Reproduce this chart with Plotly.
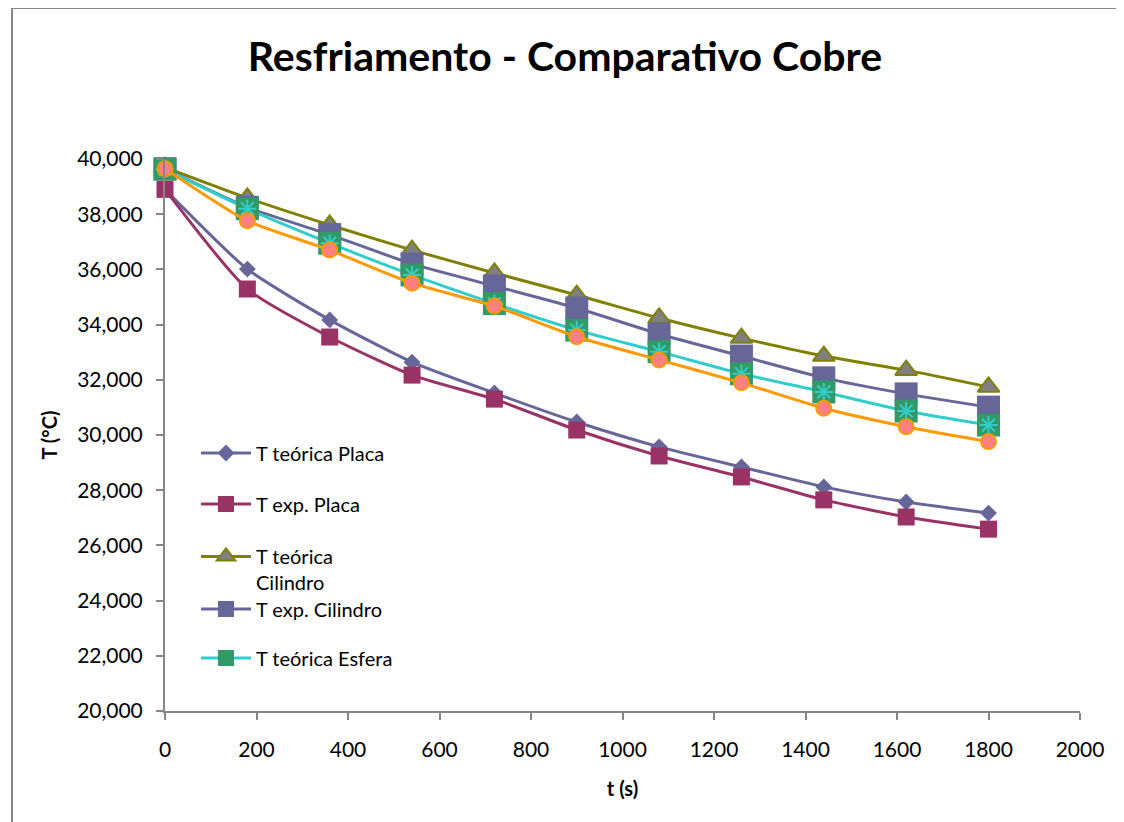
import plotly.graph_objects as go

t = [0, 180, 360, 540, 720, 900, 1080, 1260, 1440, 1620, 1800]

t_teo_placa = [38900, 36010, 34170, 32640, 31520, 30470, 29570, 28840, 28120, 27570, 27170]
t_exp_placa = [38900, 35290, 33550, 32170, 31300, 30180, 29240, 28480, 27650, 27030, 26590]
t_teo_cil = [39700, 38590, 37610, 36700, 35870, 35070, 34240, 33510, 32860, 32350, 31740]
t_exp_cil = [39650, 38250, 37260, 36200, 35400, 34600, 33660, 32860, 32070, 31490, 31010]
t_teo_esf = [39630, 38200, 36950, 35800, 34760, 33800, 33020, 32220, 31560, 30870, 30360]
t_exp_esf = [39650, 37760, 36700, 35500, 34670, 33560, 32720, 31890, 30970, 30300, 29760]

names = ["T teórica Placa", "T exp. Placa", "T teórica<br>Cilindro",
         "T exp. Cilindro", "T teórica Esfera", "T exp. Esfera"]

FONT = "Lato, 'Open Sans', sans-serif"

fig = go.Figure()

def add(y, name, lc, sym, size, mc, mlc, mlw, legend, show=True):
    fig.add_trace(go.Scatter(
        x=t, y=y, name=name, mode="lines+markers",
        line=dict(color=lc, width=3, shape="spline", smoothing=0.6),
        marker=dict(symbol=sym, size=size, color=mc, line=dict(color=mlc, width=mlw)),
        cliponaxis=False, showlegend=show, legend=legend))

add(t_teo_placa, names[0], "#666699", "diamond", 13, "#666699", "#666699", 0, "legend")
add(t_exp_placa, names[1], "#993366", "square", 17, "#993366", "#993366", 0, "legend2")
add(t_teo_cil, names[2], "#808000", "triangle-up", 19, "#808080", "#808000", 2, "legend3")
add(t_exp_cil, names[3], "#666699", "square", 23, "#666699", "#666699", 0, "legend4")
add(t_teo_esf, names[4], "#33CCCC", "square", 23, "#339966", "#339966", 0, "legend5")
fig.add_trace(go.Scatter(
    x=t, y=t_teo_esf, mode="markers", showlegend=False,
    marker=dict(symbol="asterisk-open", size=15, color="#33CCCC",
                line=dict(color="#33CCCC", width=2)),
    cliponaxis=False))
add(t_exp_esf, names[5], "#FF9900", "circle", 15, "#FF8080", "#FF9900", 2, "legend", show=False)

OFF = 8  # page body margin
W, H = 1124 - OFF, 822 - OFF
# plot area in screen pixels
X0, X1, Y0, Y1 = 165, 1080, 159, 711
L, R, T, B = X0 - OFF, W - (X1 - OFF), Y0 - OFF, H - (Y1 - OFF)
pw, ph = X1 - X0, Y1 - Y0

def px(xs):
    return (xs - X0) / pw

def py(ys):
    return (Y1 - ys) / ph

leg_common = dict(bgcolor="rgba(0,0,0,0)", borderwidth=0, itemwidth=50,
                  font=dict(family=FONT, size=20, color="#000000"),
                  xanchor="left", x=px(196))
legend_y = [453, 504, 552, 609, 658]
layout_leg = {}
for i, key in enumerate(["legend", "legend2", "legend3", "legend4", "legend5"]):
    d = dict(leg_common)
    if i == 2:
        d.update(yanchor="top", y=py(legend_y[i] - 15), valign="top")
    else:
        d.update(yanchor="middle", y=py(legend_y[i]))
    layout_leg[key] = d

fig.update_layout(
    width=W, height=H,
    margin=dict(l=L, r=R, t=T, b=B),
    paper_bgcolor="white", plot_bgcolor="white",
    font=dict(family=FONT, size=20, color="#000000"),
    title=dict(text="<b>Resfriamento - Comparativo Cobre</b>",
               font=dict(family=FONT, size=41, color="#000000"),
               x=(565 - OFF) / W, xanchor="center", xref="container",
               y=1 - (57 - OFF) / H, yanchor="middle"),
    xaxis=dict(range=[0, 2000], dtick=200, tick0=0, showgrid=False, zeroline=False,
               showline=True, linecolor="#868686", linewidth=2,
               ticks="outside", ticklen=7, tickcolor="#868686", tickwidth=1.5,
               ticklabelstandoff=12,
               tickfont=dict(family=FONT, size=21),
               title=dict(text="<b>t (s)</b>", font=dict(family=FONT, size=20), standoff=22)),
    yaxis=dict(range=[20000, 40000], dtick=2000, tick0=20000, showgrid=False, zeroline=False,
               showline=True, linecolor="#868686", linewidth=2,
               ticks="outside", ticklen=7, tickcolor="#868686", tickwidth=1.5,
               ticklabelstandoff=9,
               tickformat=",d", tickfont=dict(family=FONT, size=21),
               title=dict(text="<b>T (°C)</b>", font=dict(family=FONT, size=20), standoff=14)),
    **layout_leg,
)

fig.add_shape(type="rect", xref="paper", yref="paper",
              x0=px(12), x1=px(1121), y0=py(840), y1=py(8),
              line=dict(color="#888888", width=2), fillcolor="rgba(0,0,0,0)", layer="below")

fig.write_html("out.html")
